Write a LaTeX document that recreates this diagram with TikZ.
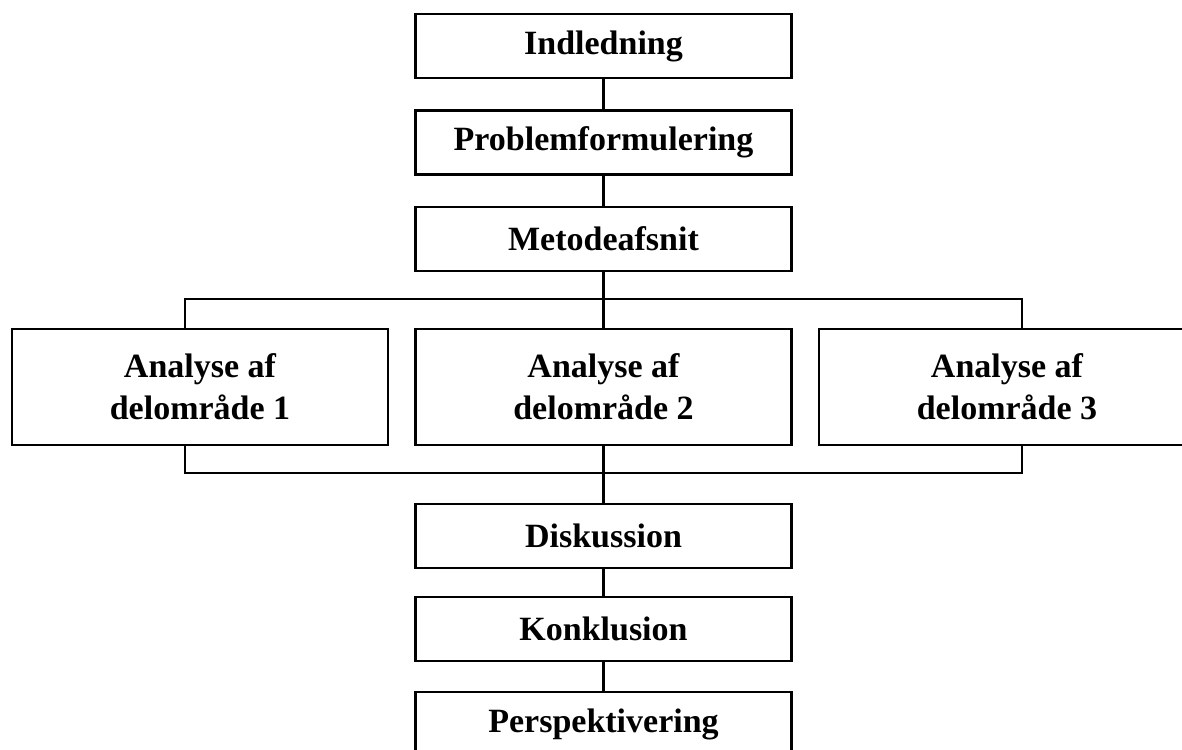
\documentclass[tikz,border=0pt]{standalone}
\usepackage{fontspec}
\setmainfont{Liberation Serif}
\begin{document}
\begin{tikzpicture}[x=1pt,y=-1pt,
  box/.style={draw=black,line width=2.2pt,minimum width=376pt,inner sep=0pt,align=center,
    font=\fontsize{34}{42}\selectfont\bfseries},
  small/.style={box,minimum height=64pt},
  big/.style={box,minimum height=116pt},
  conn/.style={draw=black,line width=2.2pt}]
\useasboundingbox (0,0) rectangle (1182,749);
\clip (0,0) rectangle (1182,749);
\node[small] (ind) at (603.5,46) {Indledning};
\node[small] (prob) at (603.5,142.5) {Problemformulering};
\node[small] (met) at (603.5,239) {Metodeafsnit};
\node[big] (a1) at (200,387) {Analyse af\\delområde 1};
\node[big] (a2) at (603.5,387) {Analyse af\\delområde 2};
\node[big] (a3) at (1007,387) {Analyse af\\delområde 3};
\node[small] (disk) at (603.5,536) {Diskussion};
\node[small] (konk) at (603.5,629) {Konklusion};
\node[small] (pers) at (603.5,724) {Perspektivering};
\coordinate (tl) at (185,299);
\coordinate (tr) at (1022,299);
\coordinate (bl) at (185,473);
\coordinate (br) at (1022,473);
\draw[conn] (ind.south) -- (prob.north);
\draw[conn] (prob.south) -- (met.north);
\draw[conn] (met.south) -- (a2.north);
\draw[conn] (a1.north -| tl) -- (tl) -- (tr) -- (a3.north -| tr);
\draw[conn] (a1.south -| bl) -- (bl) -- (br) -- (a3.south -| br);
\draw[conn] (a2.south) -- (disk.north);
\draw[conn] (disk.south) -- (konk.north);
\draw[conn] (konk.south) -- (pers.north);
\end{tikzpicture}
\end{document}
